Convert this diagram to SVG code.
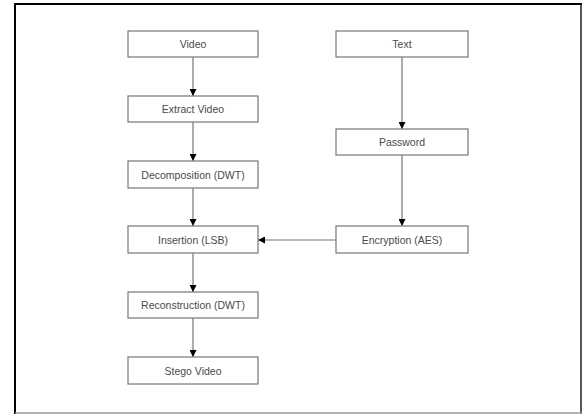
<svg xmlns="http://www.w3.org/2000/svg" width="582" height="414" viewBox="0 0 582 414">
<style>
.box rect{fill:#fff;stroke:#777;stroke-width:1.2}
.box text{font-family:"Liberation Sans",Arial,sans-serif;font-size:10.5px;fill:#4a4a4a;text-anchor:middle;dominant-baseline:central}
.conn line{stroke:#777;stroke-width:1.2}
</style>
<defs>
<marker id="ah" viewBox="0 0 10 10" refX="10" refY="5" markerWidth="9" markerHeight="7" markerUnits="userSpaceOnUse" orient="auto">
<path d="M0,0 L10,5 L0,10 Z" fill="#000"/>
</marker>
</defs>
<rect width="582" height="414" fill="#fff"/>
<g id="frame">
<line x1="15" y1="3" x2="15" y2="414" stroke="#000" stroke-width="2"/>
<line x1="14" y1="4" x2="582" y2="4" stroke="#000" stroke-width="2"/>
<line x1="581" y1="4" x2="581" y2="414" stroke="#222" stroke-width="1.5"/>
<line x1="15" y1="413" x2="582" y2="413" stroke="#999" stroke-width="1.5"/>
</g>
<g class="conn" id="connectors">
<line x1="193" y1="57" x2="193" y2="96" marker-end="url(#ah)"/>
<line x1="193" y1="122" x2="193" y2="161" marker-end="url(#ah)"/>
<line x1="193" y1="188" x2="193" y2="226" marker-end="url(#ah)"/>
<line x1="193" y1="253" x2="193" y2="292" marker-end="url(#ah)"/>
<line x1="193" y1="318" x2="193" y2="357" marker-end="url(#ah)"/>
<line x1="402" y1="57" x2="402" y2="129" marker-end="url(#ah)"/>
<line x1="402" y1="155" x2="402" y2="226" marker-end="url(#ah)"/>
<line x1="336" y1="240" x2="258" y2="240" marker-end="url(#ah)"/>
</g>
<g class="box" id="video"><rect x="128" y="31" width="130" height="26"/><text x="193" y="44">Video</text></g>
<g class="box" id="extract"><rect x="128" y="96" width="130" height="26"/><text x="193" y="109">Extract Video</text></g>
<g class="box" id="decomp"><rect x="128" y="161" width="130" height="27"/><text x="193" y="174.5">Decomposition (DWT)</text></g>
<g class="box" id="insertion"><rect x="128" y="226" width="130" height="27"/><text x="193" y="239.5">Insertion (LSB)</text></g>
<g class="box" id="recon"><rect x="128" y="292" width="130" height="26"/><text x="193" y="305">Reconstruction (DWT)</text></g>
<g class="box" id="stego"><rect x="128" y="357" width="130" height="27"/><text x="193" y="370.5">Stego Video</text></g>
<g class="box" id="text"><rect x="336" y="31" width="132" height="26"/><text x="402" y="44">Text</text></g>
<g class="box" id="password"><rect x="336" y="129" width="132" height="26"/><text x="402" y="142">Password</text></g>
<g class="box" id="encryption"><rect x="336" y="226" width="132" height="27"/><text x="402" y="239.5">Encryption (AES)</text></g>
</svg>
